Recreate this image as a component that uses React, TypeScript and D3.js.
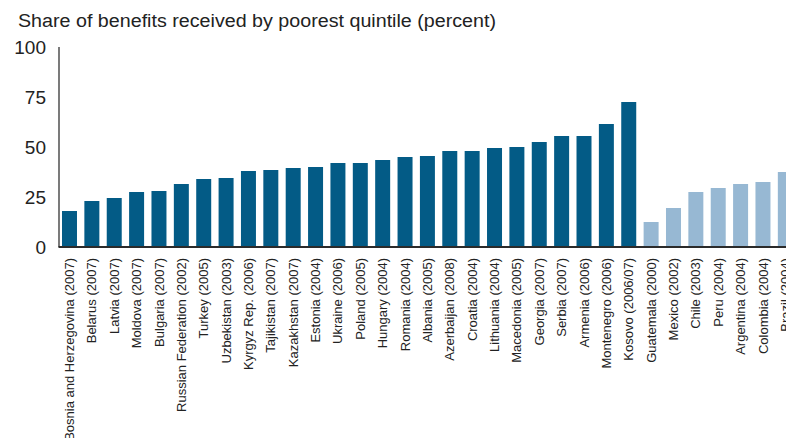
import React, { useEffect, useRef } from "react";
import * as d3 from "d3";

const countries = [
  "Bosnia and Herzegovina (2007)", "Belarus (2007)", "Latvia (2007)", "Moldova (2007)",
  "Bulgaria (2007)", "Russian Federation (2002)", "Turkey (2005)", "Uzbekistan (2003)",
  "Kyrgyz Rep. (2006)", "Tajikistan (2007)", "Kazakhstan (2007)", "Estonia (2004)",
  "Ukraine (2006)", "Poland (2005)", "Hungary (2004)", "Romania (2004)", "Albania (2005)",
  "Azerbaijan (2008)", "Croatia (2004)", "Lithuania (2004)", "Macedonia (2005)",
  "Georgia (2007)", "Serbia (2007)", "Armenia (2006)", "Montenegro (2006)", "Kosovo (2006/07)",
  "Guatemala (2000)", "Mexico (2002)", "Chile (2003)", "Peru (2004)", "Argentina (2004)",
  "Colombia (2004)", "Brazil (2004)",
];

const shares = [
  18, 23, 24.5, 27.5, 28, 31.5, 34, 34.5, 38, 38.5, 39.5, 40, 42, 42, 43.5, 45, 45.5,
  48, 48, 49.5, 50, 52.5, 55.5, 55.5, 61.5, 72.5,
  12.5, 19.5, 27.5, 29.5, 31.5, 32.5, 37.5,
];

// region of each country: Europe & Central Asia vs Latin America
const regions = [
  ...Array(26).fill("eca"),
  ...Array(7).fill("lac"),
];

const yTicks = [0, 25, 50, 75, 100];
const title = "Share of benefits received by poorest quintile (percent)";

const W = 786;
const H = 438;
const FONT = "'Liberation Sans', Arial, sans-serif";

export default function App() {
  const ref = useRef<SVGSVGElement | null>(null);

  useEffect(() => {
    const svg = d3.select(ref.current);
    svg.selectAll("*").remove();

    const axisX = 59;
    const y = d3.scaleLinear().domain([0, 100]).range([247, 47]);
    const pInner = 0.33;
    const pOuter = 0.134;
    const step = 22.37;
    const x = d3
      .scaleBand<string>()
      .domain(countries)
      .range([axisX, axisX + step * (countries.length - pInner + 2 * pOuter)])
      .paddingInner(pInner)
      .paddingOuter(pOuter);

    const color = (r: string) => (r === "eca" ? "#035b86" : "#97b8d3");

    svg
      .append("text")
      .attr("x", 18)
      .attr("y", 27)
      .attr("font-family", FONT)
      .attr("font-size", 18)
      .attr("textLength", 478)
      .attr("lengthAdjust", "spacingAndGlyphs")
      .attr("fill", "#222")
      .text(title);

    // bars
    svg
      .append("g")
      .selectAll("rect")
      .data(countries)
      .join("rect")
      .attr("x", (d) => x(d)!)
      .attr("width", x.bandwidth())
      .attr("y", (_, i) => y(shares[i]))
      .attr("height", (_, i) => y(0) - y(shares[i]))
      .attr("fill", (_, i) => color(regions[i]));

    // y axis
    svg
      .append("line")
      .attr("x1", axisX)
      .attr("x2", axisX)
      .attr("y1", y(100))
      .attr("y2", y(0))
      .attr("stroke", "#333")
      .attr("stroke-width", 1.3);

    svg
      .append("g")
      .selectAll("text")
      .data(yTicks)
      .join("text")
      .attr("x", 46)
      .attr("y", (d) => y(d))
      .attr("dy", "0.35em")
      .attr("text-anchor", "end")
      .attr("font-family", FONT)
      .attr("font-size", 19)
      .attr("fill", "#222")
      .text((d) => String(d));

    // baseline
    svg
      .append("line")
      .attr("x1", axisX - 0.5)
      .attr("x2", W)
      .attr("y1", y(0))
      .attr("y2", y(0))
      .attr("stroke", "#2b2b2b")
      .attr("stroke-width", 2);

    // category labels
    svg
      .append("g")
      .selectAll("text")
      .data(countries)
      .join("text")
      .attr(
        "transform",
        (d) => `translate(${x(d)! + x.bandwidth() / 2},258) rotate(-90)`
      )
      .attr("dy", "0.35em")
      .attr("text-anchor", "end")
      .attr("font-family", FONT)
      .attr("font-size", 13)
      .attr("fill", "#222")
      .text((d) => d);
  }, []);

  return (
    <svg
      ref={ref}
      width={W}
      height={H}
      style={{ position: "absolute", left: 0, top: 0, background: "#fff" }}
    />
  );
}
